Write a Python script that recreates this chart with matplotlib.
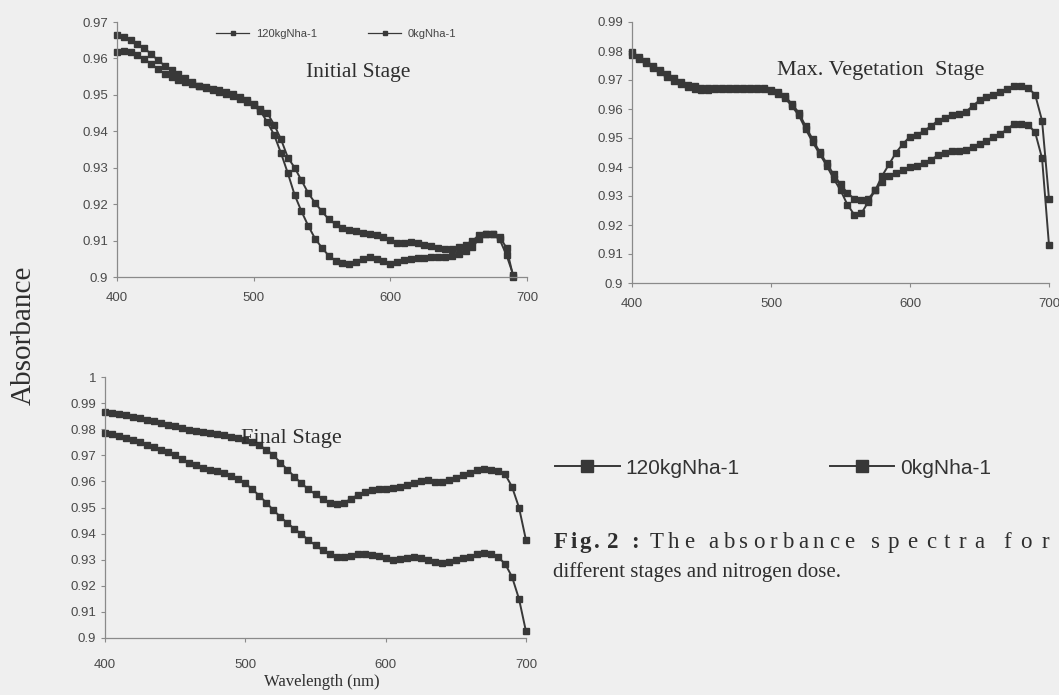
import numpy as np
import matplotlib
matplotlib.use("Agg")
import matplotlib.pyplot as plt
from matplotlib.lines import Line2D

plt.rcParams['font.family'] = ['Liberation Sans', 'DejaVu Sans']

# ---------------- data ----------------
wl = list(range(400, 705, 5))           # 400..700 nm, step 5
wl_init = list(range(400, 695, 5))      # 400..690 nm

series_names = ["120kgNha-1", "0kgNha-1"]

init_120 = [0.9618, 0.9620, 0.9618, 0.9610, 0.9598, 0.9585, 0.9570, 0.9558, 0.9548, 0.9540,
            0.9534, 0.9529, 0.9525, 0.9521, 0.9517, 0.9513, 0.9508, 0.9502, 0.9495, 0.9486,
            0.9475, 0.9462, 0.9450, 0.9418, 0.9378, 0.9328, 0.9300, 0.9265, 0.9230, 0.9203,
            0.9180, 0.9158, 0.9145, 0.9134, 0.9130, 0.9127, 0.9122, 0.9118, 0.9116, 0.9110,
            0.9102, 0.9094, 0.9094, 0.9097, 0.9094, 0.9089, 0.9084, 0.9079, 0.9078, 0.9078,
            0.9081, 0.9088, 0.9100, 0.9114, 0.9119, 0.9117, 0.9103, 0.9060, 0.9005]
init_0 = [0.9665, 0.9658, 0.9650, 0.9640, 0.9628, 0.9612, 0.9595, 0.9580, 0.9568, 0.9556,
          0.9545, 0.9534, 0.9524, 0.9518, 0.9512, 0.9508, 0.9503, 0.9497, 0.9489, 0.9481,
          0.9471, 0.9455, 0.9425, 0.9390, 0.9340, 0.9285, 0.9225, 0.9180, 0.9140, 0.9105,
          0.9080, 0.9058, 0.9045, 0.9038, 0.9037, 0.9042, 0.9050, 0.9055, 0.9050, 0.9043,
          0.9037, 0.9040, 0.9046, 0.9050, 0.9051, 0.9053, 0.9055, 0.9055, 0.9055, 0.9058,
          0.9062, 0.9072, 0.9082, 0.9105, 0.9118, 0.9118, 0.9110, 0.9080, 0.9000]

maxveg_120 = [0.9795, 0.9780, 0.9765, 0.9750, 0.9735, 0.9720, 0.9706, 0.9694, 0.9684, 0.9678,
              0.9674, 0.9672, 0.9672, 0.9673, 0.9674, 0.9674, 0.9674, 0.9674, 0.9674, 0.9672,
              0.9667, 0.9658, 0.9644, 0.9618, 0.9587, 0.9540, 0.9495, 0.9452, 0.9413, 0.9375,
              0.9340, 0.9310, 0.9290, 0.9287, 0.9290, 0.9320, 0.9370, 0.9410, 0.9450, 0.9480,
              0.9505, 0.9510, 0.9525, 0.9540, 0.9560, 0.9570, 0.9580, 0.9582, 0.9590, 0.9610,
              0.9630, 0.9640, 0.9650, 0.9660, 0.9670, 0.9680, 0.9680, 0.9672, 0.9650, 0.9560,
              0.9290]
maxveg_0 = [0.9785, 0.9772, 0.9758, 0.9742, 0.9726, 0.9710, 0.9697, 0.9685, 0.9676, 0.9670,
            0.9667, 0.9667, 0.9668, 0.9669, 0.9670, 0.9670, 0.9670, 0.9670, 0.9670, 0.9668,
            0.9662, 0.9652, 0.9638, 0.9610, 0.9578, 0.9530, 0.9485, 0.9445, 0.9405, 0.9360,
            0.9320, 0.9270, 0.9235, 0.9240, 0.9280, 0.9320, 0.9350, 0.9370, 0.9380, 0.9390,
            0.9400, 0.9405, 0.9415, 0.9425, 0.9440, 0.9450, 0.9455, 0.9455, 0.9460, 0.9470,
            0.9480, 0.9490, 0.9505, 0.9515, 0.9530, 0.9550, 0.9550, 0.9545, 0.9520, 0.9430,
            0.9130]

final_120 = [0.9866, 0.9862, 0.9858, 0.9853, 0.9847, 0.9842, 0.9836, 0.9830, 0.9823, 0.9818,
             0.9812, 0.9806, 0.9798, 0.9795, 0.9790, 0.9786, 0.9781, 0.9777, 0.9772, 0.9768,
             0.9760, 0.9752, 0.9738, 0.9722, 0.9700, 0.9672, 0.9645, 0.9618, 0.9592, 0.9570,
             0.9550, 0.9532, 0.9518, 0.9514, 0.9518, 0.9532, 0.9548, 0.9560, 0.9566, 0.9570,
             0.9572, 0.9574, 0.9580, 0.9588, 0.9595, 0.9602, 0.9604, 0.9598, 0.9596, 0.9605,
             0.9614, 0.9625, 0.9634, 0.9642, 0.9646, 0.9645, 0.9640, 0.9628, 0.9580, 0.9500,
             0.9375]
final_0 = [0.9785, 0.9780, 0.9775, 0.9768, 0.9760, 0.9750, 0.9739, 0.9730, 0.9720, 0.9711,
           0.9700, 0.9685, 0.9672, 0.9662, 0.9652, 0.9645, 0.9640, 0.9634, 0.9620, 0.9608,
           0.9592, 0.9570, 0.9545, 0.9518, 0.9490, 0.9464, 0.9440, 0.9418, 0.9398, 0.9375,
           0.9355, 0.9336, 0.9320, 0.9310, 0.9310, 0.9314, 0.9320, 0.9320, 0.9318, 0.9316,
           0.9308, 0.9300, 0.9302, 0.9308, 0.9310, 0.9305, 0.9298, 0.9290, 0.9286, 0.9290,
           0.9298, 0.9305, 0.9312, 0.9320, 0.9326, 0.9323, 0.9310, 0.9285, 0.9235, 0.9150,
           0.9025]

xticks = [400, 500, 600, 700]
init_yticks = [0.9, 0.91, 0.92, 0.93, 0.94, 0.95, 0.96, 0.97]
init_ylabels = ["0.9", "0.91", "0.92", "0.93", "0.94", "0.95", "0.96", "0.97"]
mv_yticks = [0.9, 0.91, 0.92, 0.93, 0.94, 0.95, 0.96, 0.97, 0.98, 0.99]
mv_ylabels = ["0.9", "0.91", "0.92", "0.93", "0.94", "0.95", "0.96", "0.97", "0.98", "0.99"]
fin_yticks = [0.9, 0.91, 0.92, 0.93, 0.94, 0.95, 0.96, 0.97, 0.98, 0.99, 1.0]
fin_ylabels = ["0.9", "0.91", "0.92", "0.93", "0.94", "0.95", "0.96", "0.97", "0.98", "0.99", "1"]

# ---------------- figure ----------------
BG = '#efefef'
LC = '#383838'
TC = '#2e2e2e'
fig = plt.figure(figsize=(10.59, 6.95), dpi=100, facecolor=BG)

W, H = 1059.0, 695.0
def add_ax(l, r, t, b):
    return fig.add_axes([l / W, 1 - b / H, (r - l) / W, (b - t) / H])

def style(ax, ylim, yt, yl, xpad=8):
    ax.set_facecolor('none')
    for s in ['top', 'right']:
        ax.spines[s].set_visible(False)
    for s in ['left', 'bottom']:
        ax.spines[s].set_color('#8a8a8a')
        ax.spines[s].set_linewidth(0.9)
    ax.set_xlim(400, 700)
    ax.set_ylim(*ylim)
    ax.set_xticks(xticks)
    ax.set_xticklabels([str(v) for v in xticks])
    ax.set_yticks(yt)
    ax.set_yticklabels(yl)
    ax.tick_params(axis='both', labelsize=9.5, colors='#8a8a8a', labelcolor='#4a4a4a',
                   length=3, width=0.8, direction='out')
    ax.tick_params(axis='x', pad=xpad)

def plot(ax, x, y, ms=4.2):
    ax.plot(x, y, color=LC, lw=1.4, marker='s', ms=ms, mfc=LC, mec=LC, clip_on=False)

# ---- Initial stage ----
ax1 = add_ax(117, 527, 22, 277)
style(ax1, (0.9, 0.97), init_yticks, init_ylabels)
plot(ax1, wl_init, init_120)
plot(ax1, wl_init, init_0)
ax1.text(0.588, 0.80, "Initial Stage", transform=ax1.transAxes, ha='center', va='center',
         family='Liberation Serif', fontsize=15.5, color=TC)
h = [Line2D([], [], color=LC, lw=0.9, marker='s', ms=3) for _ in range(2)]
fig.legend(h, series_names, loc='center left', bbox_to_anchor=(216 / W, 1 - 34 / H), ncol=2,
           frameon=False, fontsize=8, handlelength=3.0, columnspacing=4.6, handletextpad=0.6,
           borderpad=0, borderaxespad=0, labelcolor='#444444')

# ---- Max vegetation stage ----
ax2 = add_ax(632, 1049, 22, 283)
style(ax2, (0.9, 0.99), mv_yticks, mv_ylabels)
plot(ax2, wl, maxveg_120)
plot(ax2, wl, maxveg_0)
ax2.text(0.597, 0.816, "Max. Vegetation  Stage", transform=ax2.transAxes, ha='center',
         va='center', family='Liberation Serif', fontsize=16, color=TC)

# ---- Final stage ----
ax3 = add_ax(105, 526, 377, 638)
style(ax3, (0.9, 1.0), fin_yticks, fin_ylabels, xpad=12)
plot(ax3, wl, final_120)
plot(ax3, wl, final_0)
ax3.text(0.442, 0.766, "Final Stage", transform=ax3.transAxes, ha='center', va='center',
         family='Liberation Serif', fontsize=16, color=TC)
fig.text(322 / W, 1 - 682 / H, "Wavelength (nm)", ha='center', va='center',
         family='Liberation Serif', fontsize=12, color=TC)

fig.text(24 / W, 1 - 335 / H, "Absorbance", rotation=90, ha='center', va='center',
         family='Liberation Serif', fontsize=21, color=TC)

# ---- big legend ----
h2 = [Line2D([], [], color=LC, lw=1.4, marker='s', ms=8) for _ in range(2)]
fig.legend(h2, series_names, loc='center left', bbox_to_anchor=(555 / W, 1 - 468 / H), ncol=2,
           frameon=False, fontsize=15, handlelength=3.1, columnspacing=4.3, handletextpad=0.3,
           borderpad=0, borderaxespad=0, labelcolor='#333333')

# ---- caption (first line justified with letter spacing) ----
renderer = fig.canvas.get_renderer()
def spaced_word(word, x0, x1, y, weight='normal', size=16.5):
    texts, widths = [], []
    for c in word:
        t = fig.text(0, 1 - y / H, c, ha='left', va='baseline', family='Liberation Serif',
                     fontsize=size, weight=weight, color=TC)
        widths.append(t.get_window_extent(renderer).width)
        texts.append(t)
    natural = sum(widths)
    gap = (x1 - x0 - natural) / (len(word) - 1) if len(word) > 1 else 0
    gap = max(gap, 0)
    x = x0
    for t, w in zip(texts, widths):
        t.set_x(x / W)
        x += w + gap

yb1 = 548
spaced_word("Fig.", 554, 600, yb1, weight='bold')
spaced_word("2", 607, 620, yb1, weight='bold')
spaced_word(":", 631, 637, yb1, weight='bold')
spaced_word("The", 650, 694, yb1)
spaced_word("absorbance", 708, 854, yb1)
spaced_word("spectra", 871, 984, yb1)
spaced_word("for", 1003, 1049, yb1)
fig.text(553 / W, 1 - 577 / H, "different stages and nitrogen dose.", ha='left', va='baseline',
         family='Liberation Serif', fontsize=15, color=TC)

fig.savefig("out.png", dpi=100, facecolor=BG)
